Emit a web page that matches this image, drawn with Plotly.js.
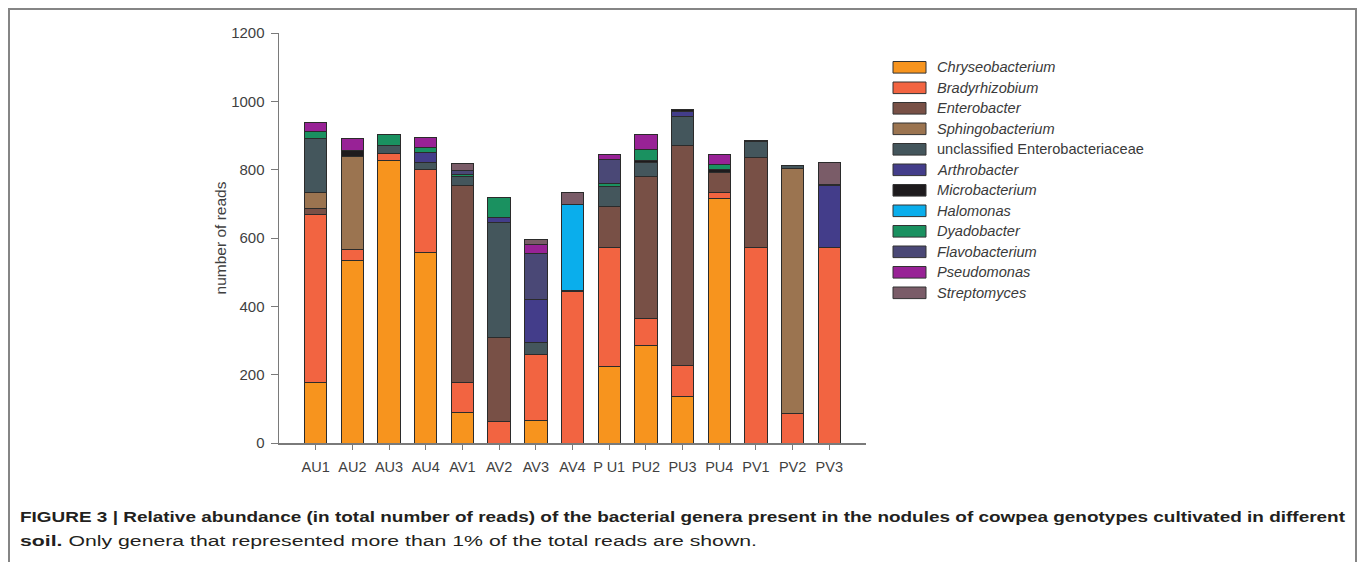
<!DOCTYPE html>
<html>
<head>
<meta charset="utf-8">
<script src="https://cdn.plot.ly/plotly-3.0.1.min.js"></script>
<style>
  html, body { margin:0; padding:0; background:#fff; overflow:hidden; }
  #wrap { position:relative; width:1358px; height:562px; }
  #chart { position:absolute; left:0; top:0; width:1358px; height:562px; }
  #frame { position:absolute; left:8px; top:8px; width:1345px; height:620px;
           border:2px solid #858585; pointer-events:none; }
  .cap { position:absolute; white-space:nowrap; font-family: Arial, 'Liberation Sans', sans-serif;
         font-size:15.5px; color:#231f20; line-height:20px; transform-origin: 0 50%; }
  .b { font-weight:bold; }
</style>
</head>
<body>
<div id="wrap">
  <div id="chart"></div>
  <div id="frame"></div>
  <div id="cap1" class="cap b" style="left:20px; top:507px;">FIGURE 3 | Relative abundance (in total number of reads) of the bacterial genera present in the nodules of cowpea genotypes cultivated in different</div>
  <div id="cap2" class="cap" style="left:20px; top:531px;"><span class="b">soil.</span> Only genera that represented more than 1% of the total reads are shown.</div>
</div>
<script>
// ---------------- data ----------------
const samples = ["AU1","AU2","AU3","AU4","AV1","AV2","AV3","AV4","P U1","PU2","PU3","PU4","PV1","PV2","PV3"];

const genera = ["Chryseobacterium","Bradyrhizobium","Enterobacter","Sphingobacterium",
  "unclassified Enterobacteriaceae","Arthrobacter","Microbacterium","Halomonas",
  "Dyadobacter","Flavobacterium","Pseudomonas","Streptomyces"];

const italicName = [true,true,true,true,false,true,true,true,true,true,true,true];

const colors = ["#f7941e","#f26441","#785046","#9b7450","#44565c","#433d8a",
  "#1e1b1d","#0aaeec","#1a9160","#4a4876","#982296","#7a5c68"];

//                         AU1 AU2 AU3 AU4 AV1 AV2 AV3 AV4 PU1 PU2 PU3 PU4 PV1 PV2 PV3
const chryseobacterium = [176,534,826,559, 90,  0, 66,  0,224,285,135,717,  0,  0,  0];
const bradyrhizobium   = [494, 32, 21,241, 86, 63,193,442,347, 78, 92, 17,573, 86,573];
const enterobacter     = [ 15,  0,  0,  0,579,246,  0,  0,122,417,644, 58,263,  0,  0];
const sphingobacterium = [ 47,273,  0,  0,  0,  0,  0,  0,  0,  0,  0,  0,  0,716,  0];
const unclassifiedEnt  = [158,  0, 24, 20, 25,335, 36,  0, 58, 40, 85,  0, 45, 10,  0];
const arthrobacter     = [  0,  0,  0, 31,  0, 17,124,  0,  0,  0, 15,  0,  0,  0,180];
const microbacterium   = [  0, 18,  0,  0,  0,  0,  0,  5,  0,  6,  6,  9,  0,  0,  0];
const halomonas        = [  0,  0,  0,  0,  0,  0,  0,251,  0,  0,  0,  0,  0,  0,  4];
const dyadobacter      = [ 22,  0, 33, 14,  7, 59,  0,  0,  8, 33,  0, 15,  3,  0,  0];
const flavobacterium   = [  0,  0,  0,  0, 10,  0,135,  0, 70,  0,  0,  0,  0,  0,  0];
const pseudomonas      = [ 26, 33,  0, 29,  0,  0, 27,  0, 15, 43,  0, 28,  0,  0,  0];
const streptomyces     = [  0,  0,  0,  0, 22,  0, 14, 34,  0,  0,  0,  0,  0,  0, 63];

const seriesValues = [chryseobacterium, bradyrhizobium, enterobacter, sphingobacterium,
  unclassifiedEnt, arthrobacter, microbacterium, halomonas, dyadobacter,
  flavobacterium, pseudomonas, streptomyces];

const yTicks = [0,200,400,600,800,1000,1200];

// ---------------- layout helpers ----------------
const W = 1358, H = 562;
const M = {l:279, r:492, t:33, b:119};
const plotW = W - M.l - M.r, plotH = H - M.t - M.b;
const px2x = p => (p - M.l) / plotW;
const px2y = p => (H - M.b - p) / plotH;

const font = "Arial, 'Liberation Sans', Helvetica, sans-serif";

const traces = genera.map((g, i) => ({
  type: "bar",
  name: g,
  x: samples,
  y: seriesValues[i],
  marker: { color: colors[i], line: { color: "#2b2b2b", width: 1 } },
  showlegend: false,
  hoverinfo: "x+y+name"
}));

// custom legend (wide swatches like the reference)
const shapes = [];
const annotations = [];
const legTop = 67.3, legStep = 20.5;
genera.forEach((g, i) => {
  const cy = legTop + i * legStep;
  shapes.push({
    type: "rect", xref: "paper", yref: "paper",
    x0: px2x(893), x1: px2x(926), y0: px2y(cy - 5.8), y1: px2y(cy + 5.8),
    fillcolor: colors[i], line: { color: "#333", width: 1 }
  });
  annotations.push({
    xref: "paper", yref: "paper", x: px2x(935), y: px2y(cy),
    xanchor: "left", yanchor: "middle", showarrow: false, align: "left",
    text: italicName[i] ? "<i>" + g + "</i>" : g,
    font: { family: font, size: 14.6, color: "#3a3a3a" }
  });
});

const layout = {
  width: W, height: H,
  margin: { l: M.l, r: M.r, t: M.t, b: M.b, pad: 0 },
  paper_bgcolor: "rgba(0,0,0,0)", plot_bgcolor: "rgba(0,0,0,0)",
  barmode: "stack", bargap: 0.39,
  showlegend: false,
  font: { family: font, color: "#444" },
  xaxis: {
    type: "category", range: [-1, 15],
    showline: true, linecolor: "#7a7a7a", linewidth: 1.5,
    ticks: "outside", ticklen: 5, tickcolor: "#7a7a7a", tickwidth: 1,
    ticklabelstandoff: 5,
    tickfont: { family: font, size: 14.5, color: "#3f3f3f" },
    showgrid: false, zeroline: false, fixedrange: true
  },
  yaxis: {
    range: [0, 1200], tickvals: yTicks, ticktext: yTicks.map(String),
    showline: true, linecolor: "#7a7a7a", linewidth: 1.5,
    ticks: "outside", ticklen: 7, tickcolor: "#7a7a7a", tickwidth: 1,
    ticklabelstandoff: 3,
    tickfont: { family: font, size: 15, color: "#3f3f3f" },
    showgrid: false, zeroline: false, fixedrange: true,
    title: { text: "number of reads", standoff: 0,
             font: { family: font, size: 15.5, color: "#3f3f3f" } }
  },
  shapes: shapes,
  annotations: annotations
};

Plotly.newPlot("chart", traces, layout, { displayModeBar: false, staticPlot: true });

// caption: stretch each line to the reference line widths
function stretch(el, target) {
  const w = el.getBoundingClientRect().width;
  el.style.transform = "scaleX(" + (target / w) + ")";
}
stretch(document.getElementById("cap1"), 1325);
stretch(document.getElementById("cap2"), 737);
</script>
</body>
</html>
